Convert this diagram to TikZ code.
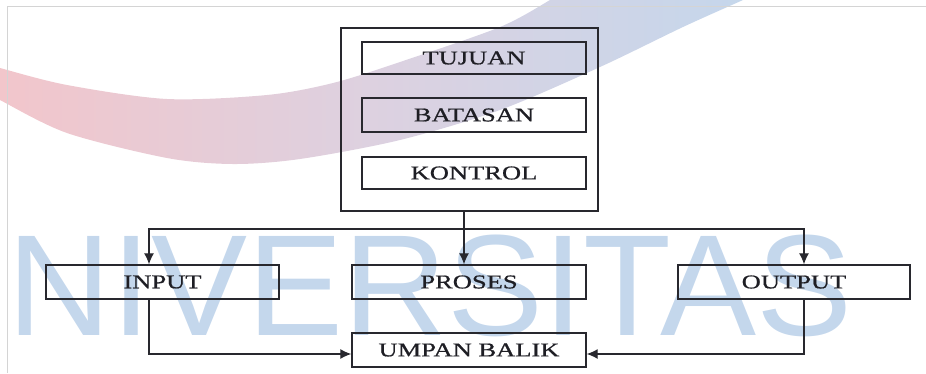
\documentclass[tikz,border=0pt]{standalone}
\usepackage{fontspec}
\setmainfont{Liberation Serif}
\newfontfamily\diagfont{Liberation Serif}[FakeStretch=1.36,FakeBold=0.8]
\newfontfamily\wmfont{Liberation Sans}
\usetikzlibrary{arrows.meta}
\definecolor{wmblue}{RGB}{196,215,236}
\definecolor{wmpink}{RGB}{243,197,202}
\definecolor{wmmid}{RGB}{221,209,224}
\definecolor{frameg}{RGB}{212,212,212}
\definecolor{ink}{RGB}{40,40,46}
\definecolor{txt}{RGB}{30,30,36}
\tikzset{
  boxnode/.style={draw=ink, line width=1.4pt, rectangle, inner sep=0pt,
    font=\diagfont\fontsize{19.5}{19.5}\selectfont, text=txt},
  arr/.style={draw=ink, line width=1.2pt, -{Latex[length=11pt,width=10pt]}},
}
\begin{document}
\begin{tikzpicture}[x=1pt,y=-1pt]
\useasboundingbox (0,0) rectangle (926,373);
\clip (0,0) rectangle (926,373);
% watermark swoosh
\shade[left color=wmpink, right color=wmblue, middle color=wmmid]
  plot[smooth] coordinates {(-20,62) (0,68) (67,85) (167,99) (267,95) (333,83) (400,62) (500,27) (550,0) (562,-8)}
  -- plot[smooth] coordinates {(760,-8) (743,0) (683,27) (600,67) (500,110) (400,140) (300,159) (233,164) (167,158) (67,133) (0,100) (-20,88)}
  -- cycle;
% watermark text
\node[anchor=base west, inner sep=0pt, text=wmblue,
  font=\wmfont\fontsize{144}{144}\selectfont] (wm) at (7,335) {NIVERSITAS};
% page frame
\draw[frameg, line width=1pt] (7,373) -- (7,6.5) -- (926,6.5);
% diagram
\node[draw=ink, line width=1.4pt, minimum width=257pt, minimum height=183pt, inner sep=0pt] (outer) at (469.5,119.5) {};
\node[boxnode, minimum width=224pt, minimum height=32pt] (tujuan) at (474,58) {TUJUAN};
\node[boxnode, minimum width=224pt, minimum height=34pt] (batasan) at (474,115) {BATASAN};
\node[boxnode, minimum width=224pt, minimum height=32pt] (kontrol) at (474,173) {KONTROL};
\node[boxnode, minimum width=233pt, minimum height=34pt] (input) at (162.5,282) {INPUT};
\node[boxnode, minimum width=234pt, minimum height=34pt] (proses) at (469,282) {PROSES};
\node[boxnode, minimum width=232pt, minimum height=34pt] (output) at (794,282) {OUTPUT};
\node[boxnode, minimum width=234pt, minimum height=34pt] (umpan) at (469,350) {UMPAN BALIK};
\coordinate (split) at (464,229);
\coordinate (inx) at (149,0);
\coordinate (outx) at (804,0);
\draw[arr] (outer.south -| split) -- (proses.north -| split);
\draw[arr] (split) -| (input.north -| inx);
\draw[arr] (split) -| (output.north -| outx);
\draw[arr] (input.south -| inx) |- ([yshift=-4pt]umpan.west);
\draw[arr] (output.south -| outx) |- ([yshift=-4pt]umpan.east);
\end{tikzpicture}
\end{document}
